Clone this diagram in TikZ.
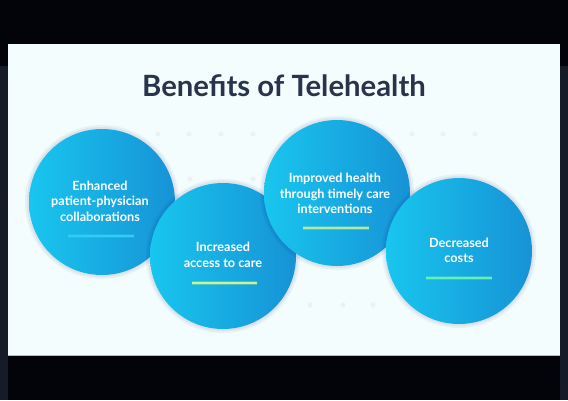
\documentclass[tikz,border=0pt]{standalone}
\usepackage{fontspec}
\setmainfont{Lato}
\usetikzlibrary{shadings}
\definecolor{navyedge}{HTML}{161B28}
\definecolor{topblack}{HTML}{030409}
\definecolor{panel}{HTML}{F4FDFD}
\definecolor{titlecol}{HTML}{27344C}
\definecolor{bubL}{HTML}{18C6EE}
\definecolor{bubR}{HTML}{1792D6}
\definecolor{dotcol}{HTML}{EAF2F5}
\definecolor{ulA}{HTML}{34CCF4}
\definecolor{ulB}{HTML}{CDF28E}
\definecolor{ulC}{HTML}{B2EAA0}
\definecolor{ulD}{HTML}{66F0B4}
\tikzset{
  bubble/.style={circle, minimum size=146pt, inner sep=0pt, left color=bubL, right color=bubR, draw=none},
  bshadow/.style={circle, minimum size=#1, inner sep=0pt, fill=black!60!blue, fill opacity=0.05, draw=none},
  btext/.style={text=white, align=center, font=\fontsize{12.7}{15.5}\selectfont\bfseries, inner sep=0pt},
  uglow/.style={line width=4pt, draw=#1, draw opacity=0.3},
  uline/.style={line width=1.6pt, draw=#1},
  faintdot/.style={fill=dotcol}
}
\begin{document}
\begin{tikzpicture}[x=1pt,y=-1pt]
\useasboundingbox (0,0) rectangle (568,400);
% frame
\fill[navyedge] (0,0) rectangle (568,400);
\fill[topblack] (0,0) rectangle (568,66);
\fill[topblack] (8,0) rectangle (560,400);
\fill[panel] (8,44) rectangle (560,356);
\draw[gray!55, line width=0.8pt] (8,355.6) -- (560,355.6);
% faint dots
\foreach \px in {158,189,221,253,412,443,475} \fill[faintdot] (\px,134) circle (2.6);
\foreach \px in {190,253} \fill[faintdot] (\px,179) circle (2.6);
\foreach \px in {310,343,373} \fill[faintdot] (\px,305) circle (2.6);
% title
\node[text=titlecol, font=\fontsize{29.3}{32}\selectfont\bfseries] (title) at (284,86) {Benefits of Telehealth};
% circle 1
\node[bshadow=154pt] (s1) at (102,202) {};
\node[bshadow=150pt] (s1b) at (102,202) {};
\node[bubble] (c1) at (102,202) {};
\node[btext] (t1) at (100,201) {Enhanced\\patient-physician\\collaborations};
\draw[uglow=ulA] (68,236) -- (134,236);
\draw[uline=ulA] (68,236) -- (134,236);
% circle 2
\node[bshadow=154pt] (s2) at (223,256) {};
\node[bshadow=150pt] (s2b) at (223,256) {};
\node[bubble] (c2) at (223,256) {};
\node[btext] (t2) at (223,255) {Increased\\access to care};
\draw[uglow=ulB] (192,283) -- (257,283);
\draw[uline=ulB] (192,283) -- (257,283);
% circle 3
\node[bshadow=154pt] (s3) at (337,193) {};
\node[bshadow=150pt] (s3b) at (337,193) {};
\node[bubble] (c3) at (337,193) {};
\node[btext] (t3) at (335,193.5) {Improved health\\through timely care\\interventions};
\draw[uglow=ulC] (303,228) -- (369,228);
\draw[uline=ulC] (303,228) -- (369,228);
% circle 4
\node[bshadow=154pt] (s4) at (459,251) {};
\node[bshadow=150pt] (s4b) at (459,251) {};
\node[bubble] (c4) at (459,251) {};
\node[btext] (t4) at (459,250.5) {Decreased\\costs};
\draw[uglow=ulD] (426,278) -- (492,278);
\draw[uline=ulD] (426,278) -- (492,278);
\end{tikzpicture}
\end{document}
